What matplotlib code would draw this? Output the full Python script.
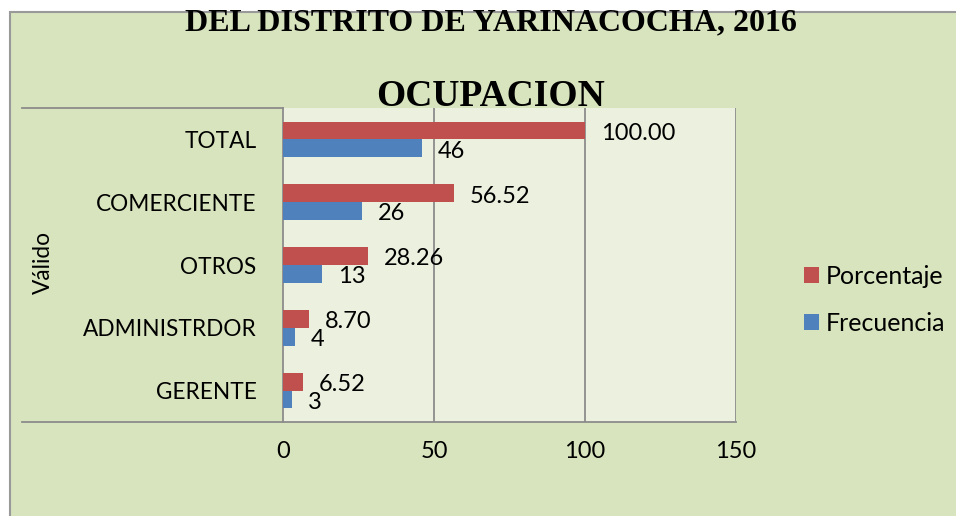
import numpy as np
import matplotlib
matplotlib.use("Agg")
import matplotlib.pyplot as plt
from matplotlib.patches import Rectangle

# data
categorias = ["TOTAL", "COMERCIENTE", "OTROS", "ADMINISTRDOR", "GERENTE"]
porcentaje = [100.00, 56.52, 28.26, 8.70, 6.52]
frecuencia = [46, 26, 13, 4, 3]
titulo_1 = "DEL DISTRITO DE YARINACOCHA, 2016"
titulo_2 = "OCUPACION"
eje_grupo = "Válido"
xticks = [0, 50, 100, 150]

# colours
fondo = "#d7e4bd"
fondo_plot = "#ebf1de"
rojo = "#c0504d"
azul = "#4f81bd"
gris = "#8c8c8c"

W, H = 956, 516
FS = 17
plt.rcParams['font.family'] = ['Lato', 'DejaVu Sans']

fig = plt.figure(figsize=(W / 100, H / 100), dpi=100, facecolor="white")

# outer chart frame (cut off at right and bottom)
fig.patches.append(Rectangle((10 / W, -0.1), 1.2, 1.1 - 12 / H, transform=fig.transFigure,
                             facecolor=fondo, edgecolor="#999999", lw=1.5, zorder=-5))

ax = fig.add_axes([283 / W, (H - 422) / H, (736 - 283) / W, (422 - 108) / H])
ax.set_facecolor(fondo_plot)

y = np.arange(len(categorias))
h = 0.285
b1 = ax.barh(y - h / 2, porcentaje, height=h, color=rojo, label="Porcentaje", zorder=3)
b2 = ax.barh(y + h / 2, frecuencia, height=h, color=azul, label="Frecuencia", zorder=3)

for bar, v in zip(b1, porcentaje):
    ax.annotate(f"{v:.2f}", (bar.get_width(), bar.get_y() + bar.get_height() / 2),
                xytext=(11.5, -2), textcoords="offset points", ha="left", va="center",
                fontsize=FS, zorder=5)
for bar, v in zip(b2, frecuencia):
    ax.annotate(f"{v}", (bar.get_width(), bar.get_y() + bar.get_height() / 2),
                xytext=(11.5, -2), textcoords="offset points", ha="left", va="center",
                fontsize=FS, zorder=5)

ax.set_xlim(0, 150)
ax.set_ylim(len(categorias) - 0.5, -0.5)
ax.set_xticks(xticks)
ax.set_yticks(y)
ax.set_yticklabels(categorias)
ax.tick_params(axis="x", length=0, pad=14, labelsize=FS)
ax.tick_params(axis="y", length=0, pad=19, labelsize=16.3)

for x in xticks[1:]:
    ax.axvline(x, color=gris, lw=1.3, zorder=1)
for s in ["top", "right"]:
    ax.spines[s].set_visible(False)
for s in ["left", "bottom"]:
    ax.spines[s].set_color(gris)
    ax.spines[s].set_linewidth(1.3)

# category box lines extending to the left
x0 = (22 - 283) / (736 - 283)
ax.plot([x0, 0], [1, 1], transform=ax.transAxes, color=gris, lw=1.3, clip_on=False)
ax.plot([x0, 0], [0, 0], transform=ax.transAxes, color=gris, lw=1.3, clip_on=False)

fig.text(43 / W, 1 - 263 / H, eje_grupo, rotation=90, ha="center", va="center", fontsize=16.3)

fig.text(491 / W, 1 - 30 / H, titulo_1, ha="center", va="baseline",
         family="Liberation Serif", fontweight="bold", fontsize=23)
fig.text(490 / W, 1 - 106 / H, titulo_2, ha="center", va="baseline",
         family="Liberation Serif", fontweight="bold", fontsize=27, zorder=6)

fig.legend(handles=[b1, b2], loc="center left", bbox_to_anchor=(804 / W, 1 - 300 / H),
           bbox_transform=fig.transFigure, frameon=False, fontsize=18,
           handlelength=0.6, handleheight=0.6, handletextpad=0.28,
           labelspacing=0.97, borderpad=0, borderaxespad=0)

fig.savefig("out.png", dpi=100, facecolor=fig.get_facecolor())
